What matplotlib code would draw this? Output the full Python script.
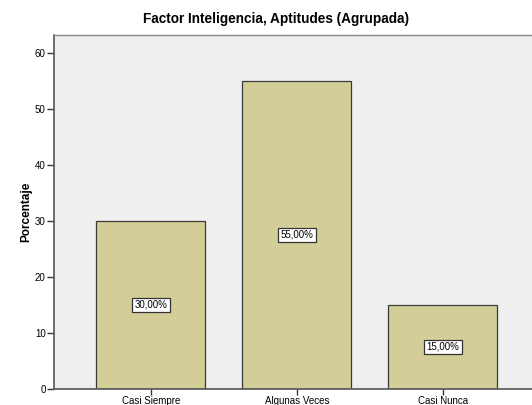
import matplotlib
matplotlib.use("Agg")
import matplotlib.pyplot as plt

plt.rcParams["font.family"] = ["Liberation Sans", "DejaVu Sans"]

categories = ["Casi Siempre", "Algunas Veces", "Casi Nunca"]
values = [30.0, 55.0, 15.0]
labels = ["30,00%", "55,00%", "15,00%"]
yticks = [0, 10, 20, 30, 40, 50, 60]

fig = plt.figure(figsize=(5.32, 4.05), dpi=100)
ax = fig.add_axes([54/532, 1-389/405, 1-54/532, (389-35)/405])
ax.set_facecolor("#efefef")
x = list(range(len(categories)))
ax.bar(x, values, width=0.747, color="#d3ce97", edgecolor="#3a3a3a", linewidth=0.9, zorder=2)
for xi, v, lab in zip(x, values, labels):
    ax.text(xi, v/2, lab, ha="center", va="center", fontsize=7, zorder=3,
            bbox=dict(boxstyle="square,pad=0.25", fc="white", ec="#333333", lw=0.9))
ax.set_xlim(-0.664, 2.61)
ax.set_ylim(0, 63.2)
ax.set_yticks(yticks)
ax.set_xticks(x)
ax.set_xticklabels(categories, fontsize=7)
ax.tick_params(axis="y", labelsize=7, length=5, width=1, color="#333333", pad=1)
ax.tick_params(axis="x", length=4, width=1, color="#333333", pad=1)
for s in ["left", "bottom"]:
    ax.spines[s].set_color("#555555")
    ax.spines[s].set_linewidth(1.2)
ax.spines["top"].set_color("#888888")
ax.spines["top"].set_linewidth(1.0)
ax.spines["right"].set_visible(False)
ax.set_ylabel("Porcentaje", fontsize=8.5, fontweight="bold")
ax.yaxis.set_label_coords(-22/478, 0.5)
fig.text(276/532, 1-19/405, "Factor Inteligencia, Aptitudes (Agrupada)", ha="center", va="center",
         fontsize=9.8, fontweight="bold")
fig.savefig("out.png", dpi=100)
